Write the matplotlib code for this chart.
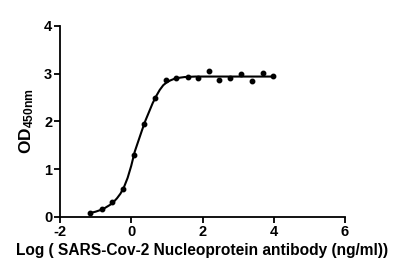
import numpy as np
import matplotlib.pyplot as plt

plt.rcParams['font.family'] = ['Liberation Sans', 'DejaVu Sans']
plt.rcParams['font.weight'] = 'bold'
plt.rcParams['axes.unicode_minus'] = False
plt.rcParams['mathtext.fontset'] = 'custom'
plt.rcParams['mathtext.rm'] = 'Liberation Sans:bold'
plt.rcParams['mathtext.it'] = 'Liberation Sans:bold'
plt.rcParams['mathtext.bf'] = 'Liberation Sans:bold'

# measured points (log concentration, OD450)
log_conc = [-1.16, -0.83, -0.53, -0.23, 0.07, 0.36, 0.66, 0.97, 1.27,
            1.58, 1.88, 2.17, 2.47, 2.77, 3.07, 3.38, 3.69, 3.99]
od450 = [0.09, 0.16, 0.31, 0.59, 1.30, 1.94, 2.50, 2.86, 2.92,
         2.94, 2.90, 3.06, 2.86, 2.91, 2.99, 2.85, 3.02, 2.96]

# fitted curve
fit_x = [-1.16, -1.0, -0.8, -0.6, -0.5, -0.4, -0.3, -0.2, -0.1, 0.0, 0.1,
         0.2, 0.3, 0.4, 0.5, 0.6, 0.7, 0.8, 0.9, 1.0, 1.1, 1.2, 1.3, 1.5,
         1.8, 2.2, 4.0]
fit_y = [0.08, 0.11, 0.16, 0.25, 0.31, 0.39, 0.49, 0.63, 0.82, 1.07, 1.37,
         1.59, 1.81, 2.02, 2.20, 2.38, 2.53, 2.66, 2.76, 2.82, 2.86, 2.89,
         2.91, 2.93, 2.94, 2.94, 2.94]

fig = plt.figure(figsize=(4.05, 2.76), dpi=100)
ax = fig.add_axes([0.148, 0.214, 0.704, 0.692])

ax.plot(fit_x, fit_y, color='black', lw=1.5)
ax.plot(log_conc, od450, 'o', color='black', ms=3.2)

ax.set_xlim(-2, 6)
ax.set_ylim(0, 4)
ax.set_xticks([-2, 0, 2, 4, 6])
ax.set_yticks([0, 1, 2, 3, 4])
for s in ['top', 'right']:
    ax.spines[s].set_visible(False)
for s in ['left', 'bottom']:
    ax.spines[s].set_linewidth(1.3)
ax.tick_params(width=1.3, length=4, labelsize=10.5, pad=1.5)
for lab in ax.get_xticklabels() + ax.get_yticklabels():
    lab.set_fontweight('bold')

ax.set_xlabel("Log ( SARS-Cov-2 Nucleoprotein antibody (ng/ml))",
              fontsize=11.2, fontweight='bold', labelpad=3)
ax.set_ylabel(r"$\mathbf{OD_{450nm}}$", fontsize=12.5, labelpad=6)

fig.savefig("out.png", dpi=100)
